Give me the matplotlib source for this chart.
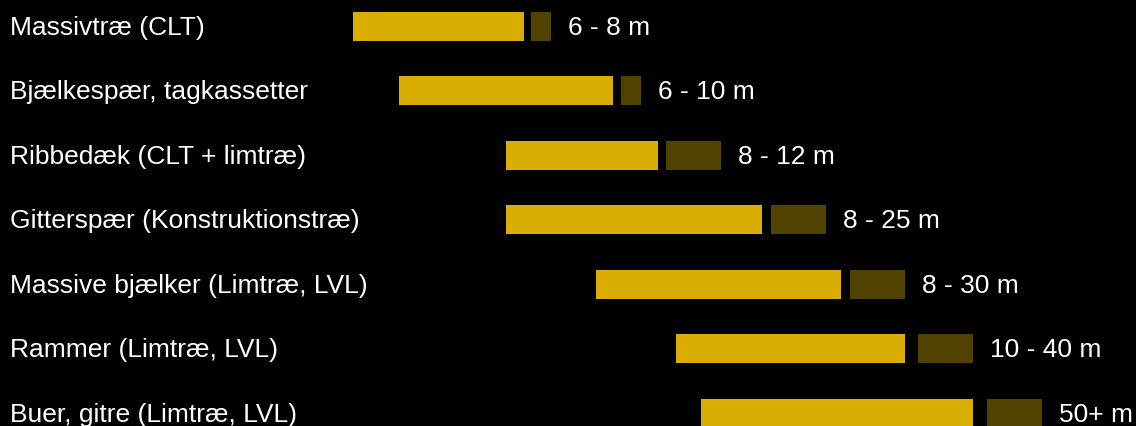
import matplotlib.pyplot as plt

# span types and their ranges (x in picture units)
labels = [
    "Massivtræ (CLT)",
    "Bjælkespær, tagkassetter",
    "Ribbedæk (CLT + limtræ)",
    "Gitterspær (Konstruktionstræ)",
    "Massive bjælker (Limtræ, LVL)",
    "Rammer (Limtræ, LVL)",
    "Buer, gitre (Limtræ, LVL)",
]
span_text = ["6 - 8 m", "6 - 10 m", "8 - 12 m", "8 - 25 m", "8 - 30 m", "10 - 40 m", "50+ m"]
main_start = [353, 399, 506, 506, 596, 676, 701]
main_end = [524, 613, 658, 762, 841, 905, 973]
ext_start = [531, 621, 666, 771, 850, 918, 987]
ext_end = [551, 641, 721, 826, 905, 973, 1042]

GOLD = "#D9AE00"
DARK = "#524200"
FONT = ["Liberation Sans", "DejaVu Sans"]
SIZE = 19

fig = plt.figure(figsize=(11.36, 4.27), dpi=100, facecolor="black")
ax = fig.add_axes([0, 0, 1, 1])
ax.set_facecolor("black")

rows = range(len(labels))
ax.barh(rows, [e - s for s, e in zip(main_start, main_end)], left=main_start,
        height=0.45, color=GOLD)
ax.barh(rows, [e - s for s, e in zip(ext_start, ext_end)], left=ext_start,
        height=0.45, color=DARK)

for i in rows:
    ax.text(10, i + 0.115, labels[i], color="white", fontsize=SIZE, family=FONT,
            va="baseline", ha="left")
    ax.text(ext_end[i] + 17, i + 0.115, span_text[i], color="white", fontsize=SIZE,
            family=FONT, va="baseline", ha="left")

ax.set_xlim(0, 1136)
ax.set_ylim(6.194, -0.426)
ax.axis("off")

fig.savefig("out.png", dpi=100, facecolor="black")
